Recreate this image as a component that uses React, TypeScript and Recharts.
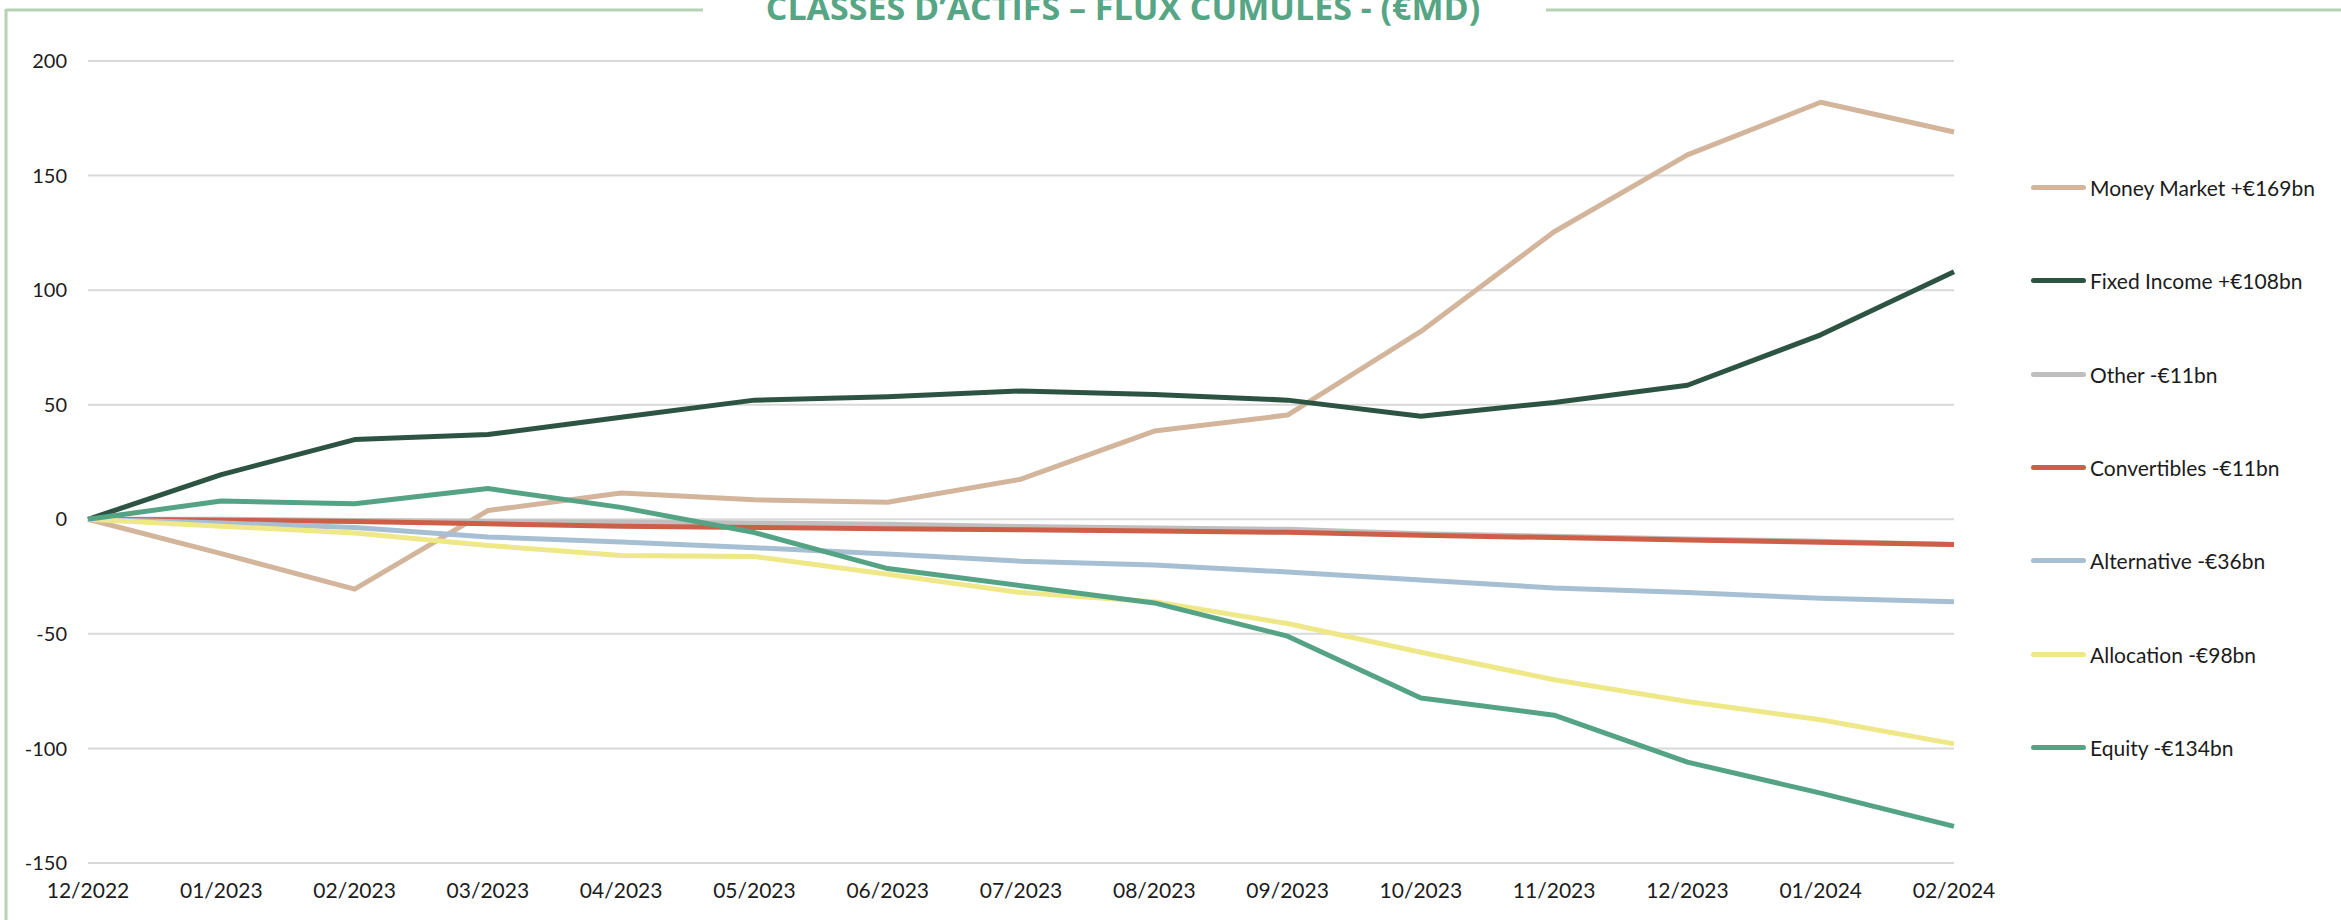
import { LineChart, Line, XAxis, YAxis, CartesianGrid } from 'recharts';

const months = [
  '12/2022', '01/2023', '02/2023', '03/2023', '04/2023', '05/2023', '06/2023', '07/2023',
  '08/2023', '09/2023', '10/2023', '11/2023', '12/2023', '01/2024', '02/2024',
];

const moneyMarket = [0, -15, -30.5, 3.8, 11.5, 8.5, 7.4, 17.5, 38.5, 45.5, 82, 125.5, 159, 182, 169];
const fixedIncome = [0, 19.5, 34.8, 37, 44.5, 52, 53.5, 56, 54.5, 52, 45, 51, 58.5, 80.5, 108];
const other = [0, 0, -0.5, -1, -1.2, -1.6, -2.2, -3.2, -3.8, -4.4, -6.3, -7.4, -8.6, -9.6, -11];
const convertibles = [0, -0.4, -1, -2, -3, -3.6, -4.1, -4.6, -5.1, -5.7, -7, -8, -9, -10, -11];
const alternative = [0, -1.6, -3.6, -7.7, -9.9, -12.4, -15.2, -18.3, -20, -23, -26.5, -30, -32, -34.5, -36];
const allocation = [0, -3, -6, -11.4, -15.8, -16.2, -24, -32, -36, -45.5, -58, -70, -79.5, -87.5, -98];
const equity = [0, 8, 6.8, 13.4, 5.2, -5.8, -21.5, -29, -36.5, -51, -78, -85.5, -106, -119.5, -134];

const yTicks = [-150, -100, -50, 0, 50, 100, 150, 200];

const series = [
  { key: 'mm', name: 'Money Market +€169bn', values: moneyMarket, color: '#d3b59c' },
  { key: 'fi', name: 'Fixed Income +€108bn', values: fixedIncome, color: '#2d5443' },
  { key: 'ot', name: 'Other -€11bn', values: other, color: '#bfbfbf' },
  { key: 'cv', name: 'Convertibles -€11bn', values: convertibles, color: '#cd5e47' },
  { key: 'al', name: 'Alternative -€36bn', values: alternative, color: '#a6bfd2' },
  { key: 'ac', name: 'Allocation -€98bn', values: allocation, color: '#efe889' },
  { key: 'eq', name: 'Equity -€134bn', values: equity, color: '#55a385' },
];

const data = months.map((m, i) => {
  const row: Record<string, string | number> = { month: m };
  series.forEach((s) => { row[s.key] = s.values[i]; });
  return row;
});

export default function App() {
  const frame = '#b6d2b6';
  return (
    <div style={{ position: 'relative', width: 2341, height: 920, overflow: 'hidden', background: '#fff' }}>
      <style>{'body{margin:0}'}</style>
      <svg width={2341} height={920} style={{ position: 'absolute', left: 0, top: 0, pointerEvents: 'none' }}>
        <line x1={6} y1={10} x2={703} y2={10} stroke={frame} strokeWidth={3} />
        <line x1={1546} y1={10} x2={2341} y2={10} stroke={frame} strokeWidth={3} />
        <line x1={6} y1={9} x2={6} y2={920} stroke={frame} strokeWidth={3} />
        <text x={1123} y={20} textAnchor="middle" fontFamily="Open Sans" fontWeight={700} fontSize={34} fill="#56a584">
          CLASSES D’ACTIFS – FLUX CUMULÉS - (€MD)
        </text>
      </svg>

      {/* legend kept outside the chart so it does not eat into the plot width */}
      <div style={{ position: 'absolute', left: 2031, top: 141 }}>
        {series.map((s) => (
          <div key={s.key} style={{ height: 93.3, display: 'flex', alignItems: 'center' }}>
            <span style={{ width: 55, height: 5, borderRadius: 3, background: s.color, marginRight: 4 }} />
            <span style={{ fontFamily: 'Lato', fontSize: 21, color: '#1c1c1c', whiteSpace: 'nowrap' }}>{s.name}</span>
          </div>
        ))}
      </div>

      <LineChart width={2341} height={920} data={data} margin={{ top: 61, right: 387, left: 0, bottom: 0 }}>
        <CartesianGrid vertical={false} stroke="#d9d9d9" strokeWidth={2} />
        <XAxis
          dataKey="month"
          interval={0}
          height={57}
          axisLine={false}
          tickLine={false}
          tickSize={0}
          tickMargin={20}
          tick={{ fontFamily: 'Lato', fontSize: 21, fill: '#1c1c1c' }}
        />
        <YAxis
          domain={[-150, 200]}
          ticks={yTicks}
          width={88}
          axisLine={false}
          tickLine={false}
          tickSize={0}
          tickMargin={21}
          tick={{ fontFamily: 'Lato', fontSize: 20, fill: '#1c1c1c' }}
        />
        {series.map((s) => (
          <Line
            key={s.key}
            type="linear"
            dataKey={s.key}
            name={s.name}
            stroke={s.color}
            strokeWidth={5}
            strokeLinejoin="round"
            dot={false}
            activeDot={false}
            isAnimationActive={false}
          />
        ))}
      </LineChart>
    </div>
  );
}
